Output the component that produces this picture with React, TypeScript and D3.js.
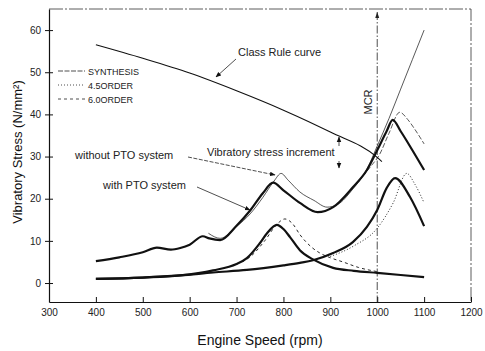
import React, { useEffect, useRef } from "react";
import * as d3 from "d3";

// Class rule limit curve
const ruleRpm = [400, 500, 600, 700, 800, 900, 1000, 1010];
const ruleVal = [56.5, 53.3, 49.8, 45.6, 41, 35.8, 29.8, 28.8];

// synthesis, with PTO system (thick)
const withRpm = [400, 450, 500, 530, 560, 580, 600, 628, 642, 665, 700, 729, 756, 778, 800, 835, 873, 906, 948, 978, 1000, 1020, 1033, 1050, 1075, 1100];
const withVal = [5.2, 6.1, 7.3, 8.4, 7.9, 8.3, 9.1, 11.1, 10.6, 10.2, 13.6, 17.2, 21.3, 23.8, 22, 19, 16.8, 18, 22.7, 26.8, 31.5, 36, 38.7, 36, 31.5, 26.8];

// synthesis, without PTO system (thin)
const withoutRpm = [640, 665, 700, 729, 756, 780, 795, 810, 835, 865, 893, 915, 948, 978, 1000, 1025, 1050, 1075, 1100];
const withoutVal = [11.8, 10.6, 13.4, 16.4, 20.3, 24.2, 26, 24.4, 21.6, 19.6, 18, 18.6, 22.3, 27, 32.5, 39, 46, 53, 60];

// synthesis measured near MCR (thin dashed)
const synthRpm = [960, 985, 1005, 1025, 1048, 1065, 1080, 1100];
const synthVal = [24, 27.5, 30.5, 35.5, 40.5, 38.8, 36.5, 33];

// 6.0 order (thick) and its dashed companion
const o6Rpm = [400, 500, 580, 650, 700, 722, 750, 765, 786, 800, 814, 835, 863, 906, 950, 1000, 1050, 1100];
const o6Val = [1.0, 1.3, 1.8, 3.0, 4.5, 5.9, 9.5, 11.8, 13.8, 12.8, 10.9, 7.8, 5.6, 3.6, 2.9, 2.4, 1.9, 1.4];
const o6dRpm = [700, 730, 760, 785, 803, 820, 835, 860, 878, 900, 927, 960, 1000];
const o6dVal = [4.5, 6.3, 10, 13.8, 15.2, 14, 11.5, 8.5, 7.1, 6, 5, 3.7, 2.7];

// 4.5 order (thick) and its dotted companion
const o45Rpm = [400, 500, 580, 650, 722, 800, 835, 863, 906, 948, 978, 1000, 1020, 1038, 1070, 1100];
const o45Val = [1.0, 1.3, 1.8, 2.5, 3.1, 4.2, 4.8, 5.4, 7.1, 9.7, 13.3, 17.3, 22.5, 24.9, 20.4, 13.5];
const o45dRpm = [900, 950, 1000, 1034, 1063, 1080, 1100];
const o45dVal = [6.3, 8.8, 13, 19, 26, 23.5, 19];

const xTicks = [300, 400, 500, 600, 700, 800, 900, 1000, 1100, 1200];
const yTicks = [0, 10, 20, 30, 40, 50, 60];
const legendNames = ["SYNTHESIS", "4.5ORDER", "6.0ORDER"];

const App = () => {
  const ref = useRef<SVGSVGElement>(null);

  useEffect(() => {
    const svg = d3.select(ref.current);
    svg.selectAll("*").remove();
    const font = "Arial, 'Liberation Sans', Helvetica, sans-serif";

    const x = d3.scaleLinear().domain([300, 1200]).range([49, 471]);
    const y = d3.scaleLinear().domain([-4.5, 65]).range([302, 9]);

    const line = d3.line<number[]>()
      .x(d => x(d[0]))
      .y(d => y(d[1]))
      .curve(d3.curveMonotoneX);
    const pts = (r: number[], v: number[]) => r.map((d, i) => [d, v[i]]);

    svg.append("rect").attr("width", 485).attr("height", 351).attr("fill", "#fff");

    // frame top and right (faint, broken)
    svg.append("path")
      .attr("d", `M49,9H471V302`)
      .attr("fill", "none")
      .attr("stroke", "#333")
      .attr("stroke-width", 0.8)
      .attr("stroke-dasharray", "14,2,2,2");

    // bottom axis
    const gx = svg.append("g").attr("transform", "translate(0,302)");
    gx.call(d3.axisBottom(x).tickValues(d3.range(350, 1200, 100)).tickSize(-3).tickFormat(() => ""));
    gx.call(d3.axisBottom(x).tickValues(xTicks).tickSizeInner(-5).tickSizeOuter(0).tickPadding(7).tickFormat(d3.format("d")));
    gx.selectAll("text").attr("font-size", 10).attr("font-family", font).attr("fill", "#222");
    gx.selectAll("path.domain").attr("stroke", "#111").attr("stroke-width", 1.2);

    // left axis
    const gy = svg.append("g").attr("transform", "translate(49,0)");
    gy.call(d3.axisLeft(y).tickValues(d3.range(-5, 65, 5).filter(v => v % 10 !== 0)).tickSize(-3).tickFormat(() => ""));
    const ay = d3.axisLeft(y).tickValues(yTicks).tickSizeInner(4).tickSizeOuter(0).tickPadding(4);
    gy.call(ay);
    gy.selectAll(".tick line").filter((d: any) => d % 10 === 0).attr("x2", 4).attr("x1", -4);
    gy.selectAll("text").attr("font-size", 10).attr("font-family", font).attr("fill", "#222");
    gy.selectAll("path.domain").attr("stroke", "#111").attr("stroke-width", 1.2);
    svg.selectAll(".tick line").attr("stroke", "#111");

    // MCR line
    svg.append("line")
      .attr("x1", x(1000)).attr("x2", x(1000))
      .attr("y1", 12).attr("y2", 302)
      .attr("stroke", "#222").attr("stroke-width", 0.8)
      .attr("stroke-dasharray", "8,2,1.5,2");
    svg.append("path")
      .attr("d", `M${x(1000) - 2},18L${x(1000)},12L${x(1000) + 2},18Z`)
      .attr("fill", "#222");
    svg.append("text")
      .attr("transform", `translate(${x(1000) - 5},102) rotate(-90)`)
      .attr("text-anchor", "middle")
      .attr("font-size", 11).attr("font-family", font).attr("fill", "#222")
      .text("MCR");

    const draw = (r: number[], v: number[], w: number, dash?: string) => {
      svg.append("path")
        .attr("d", line(pts(r, v)))
        .attr("fill", "none")
        .attr("stroke", "#111")
        .attr("stroke-width", w)
        .attr("stroke-linejoin", "round")
        .attr("stroke-dasharray", dash ?? null);
    };

    draw(ruleRpm, ruleVal, 1.1);
    draw(withoutRpm, withoutVal, 0.7);
    draw(synthRpm, synthVal, 0.7, "5,2");
    draw(o6dRpm, o6dVal, 0.9, "3,3");
    draw(o45dRpm, o45dVal, 0.9, "1,2");
    draw(withRpm, withVal, 2.2);
    draw(o6Rpm, o6Val, 2.2);
    draw(o45Rpm, o45Val, 2.2);

    // legend
    const dashes = ["5,1.5", "1,2", "3,3"];
    legendNames.forEach((name, i) => {
      const ly = 71 + i * 14;
      svg.append("line")
        .attr("x1", 58).attr("x2", 85).attr("y1", ly).attr("y2", ly)
        .attr("stroke", "#222").attr("stroke-width", 0.8)
        .attr("stroke-dasharray", dashes[i]);
      svg.append("text")
        .attr("x", 88).attr("y", ly + 3.5)
        .attr("font-size", 9).attr("font-family", font).attr("fill", "#222")
        .text(name);
    });

    // annotations
    const defs = svg.append("defs");
    defs.append("marker")
      .attr("id", "arr")
      .attr("viewBox", "0 0 10 10")
      .attr("refX", 9).attr("refY", 5)
      .attr("markerWidth", 7).attr("markerHeight", 7)
      .attr("orient", "auto")
      .append("path").attr("d", "M0,1L10,5L0,9Z").attr("fill", "#111");

    const note = (tx: number, ty: number, t: string) =>
      svg.append("text")
        .attr("x", tx).attr("y", ty)
        .attr("font-size", 11).attr("font-family", font).attr("fill", "#222")
        .text(t);
    const leader = (x1: number, y1: number, x2: number, y2: number, dash?: string) =>
      svg.append("line")
        .attr("x1", x1).attr("y1", y1).attr("x2", x2).attr("y2", y2)
        .attr("stroke", "#222").attr("stroke-width", 0.8)
        .attr("stroke-dasharray", dash ?? null)
        .attr("marker-end", "url(#arr)");

    note(238, 56, "Class Rule curve");
    leader(236, 59, 216, 77);
    note(75, 159, "without PTO system");
    leader(188, 157, 275, 175, "4,1.5");
    note(207, 156, "Vibratory stress increment");
    leader(339, 146, 339, 137);
    leader(339, 161, 339, 168);
    note(103, 189, "with PTO system");
    leader(197, 187, 250, 210);

    // axis titles
    svg.append("text")
      .attr("x", 260).attr("y", 345)
      .attr("text-anchor", "middle")
      .attr("font-size", 14).attr("font-family", font).attr("fill", "#111")
      .text("Engine Speed (rpm)");
    svg.append("text")
      .attr("transform", "translate(22,152) rotate(-90)")
      .attr("text-anchor", "middle")
      .attr("font-size", 13).attr("font-family", font).attr("fill", "#111")
      .text("Vibratory Stress (N/mm²)");
  }, []);

  return <svg ref={ref} width={485} height={351} style={{ position: "absolute", left: 0, top: 0 }} />;
};

export default App;
